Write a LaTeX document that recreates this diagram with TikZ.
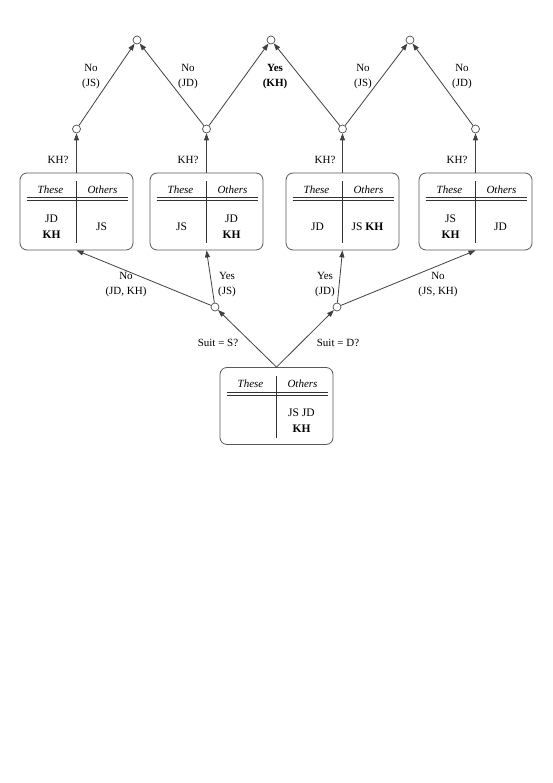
\documentclass[tikz,border=0pt]{standalone}
\usepackage{fontspec}
\setmainfont{Liberation Serif}
\usetikzlibrary{arrows.meta,calc}

\tikzstyle{hand} = [rectangle, rounded corners=7pt, minimum width=113pt, minimum height=77pt, draw=black!65, line width=0.8pt, inner sep=0pt]
\tikzstyle{branch} = [circle, draw=black!70, fill=white, minimum size=8pt, inner sep=0pt, line width=0.7pt]
\tikzstyle{arr} = [-{Triangle[length=7pt,width=5pt]}, draw=black!75, line width=0.8pt]
\tikzstyle{rule} = [draw=black!80, line width=0.7pt]
\tikzstyle{lbl} = [align=center, font=\fontsize{11}{15}\selectfont, inner sep=0pt]
\tikzstyle{head} = [font=\fontsize{11}{13}\selectfont\itshape, inner sep=0pt]
\tikzstyle{card} = [align=center, font=\fontsize{11.5}{16}\selectfont, inner sep=0pt]

% one hand: name, x, y, these, others
\newcommand{\handbox}[5]{%
  \node (#1) at (#2,#3) [hand] {};
  \draw [rule] ($(#1.north)+(0,8.5)$) -- ($(#1.south)+(0,-7)$);
  \draw [rule] ($(#1.north west)+(7,25)$) -- ($(#1.north east)+(-5,25)$);
  \draw [rule] ($(#1.north west)+(7,28)$) -- ($(#1.north east)+(-5,28)$);
  \node (#1 These) at ($(#1.north)+(-26,17)$) [head] {These};
  \node (#1 Others) at ($(#1.north)+(26,17)$) [head] {Others};
  \node (#1 Left) at ($(#1.north)+(-25,54)$) [card] {#4};
  \node (#1 Right) at ($(#1.north)+(25,54)$) [card] {#5};
}

\begin{document}
\begin{tikzpicture}[x=1pt, y=-1pt]
    \useasboundingbox (0,0) rectangle (553,783);
	\handbox{Start}{276.5}{406}{}{JS JD\\\textbf{KH}}
	\handbox{SNo}{76.5}{211.5}{JD\\\textbf{KH}}{JS}
	\handbox{SYes}{206.5}{211.5}{JS}{JD\\\textbf{KH}}
	\handbox{DYes}{342.5}{211.5}{JD}{JS \textbf{KH}}
	\handbox{DNo}{475.5}{211.5}{JS\\\textbf{KH}}{JD}

	\node (SuitS) at (215,307) [branch] {};
	\node (SuitD) at (337,307) [branch] {};
	\node (KH1) at (76.5,129) [branch] {};
	\node (KH2) at (206.5,129) [branch] {};
	\node (KH3) at (342.5,129) [branch] {};
	\node (KH4) at (475.5,129) [branch] {};
	\node (Out1) at (137,40) [branch] {};
	\node (Out2) at (271,40) [branch] {};
	\node (Out3) at (410,40) [branch] {};

	\draw [arr] (Start.north) -- (SuitS);
	\draw [arr] (Start.north) -- (SuitD);
	\draw [arr] (SuitS) -- (SNo.south);
	\draw [arr] (SuitS) -- (SYes.south);
	\draw [arr] (SuitD) -- (DYes.south);
	\draw [arr] (SuitD) -- (DNo.south);
	\draw [arr] (SNo.north) -- (KH1);
	\draw [arr] (SYes.north) -- (KH2);
	\draw [arr] (DYes.north) -- (KH3);
	\draw [arr] (DNo.north) -- (KH4);
	\draw [arr] (KH1) -- (Out1);
	\draw [arr] (KH2) -- (Out1);
	\draw [arr] (KH2) -- (Out2);
	\draw [arr] (KH3) -- (Out2);
	\draw [arr] (KH3) -- (Out3);
	\draw [arr] (KH4) -- (Out3);

	\node (AskS) at (218,343) [lbl] {Suit = S?};
	\node (AskD) at (338,343) [lbl] {Suit = D?};
	\node (LblSNo) at (126,285) [lbl] {No\\(JD, KH)};
	\node (LblSYes) at (227,285) [lbl] {Yes\\(JS)};
	\node (LblDYes) at (325,285) [lbl] {Yes\\(JD)};
	\node (LblDNo) at (438,285) [lbl] {No\\(JS, KH)};
	\node (Ask1) at (58,160) [lbl] {KH?};
	\node (Ask2) at (188,160) [lbl] {KH?};
	\node (Ask3) at (325,160) [lbl] {KH?};
	\node (Ask4) at (457,160) [lbl] {KH?};
	\node (Lbl1) at (91,77) [lbl] {No\\(JS)};
	\node (Lbl2) at (188,77) [lbl] {No\\(JD)};
	\node (Lbl3) at (275,77) [lbl] {\textbf{Yes}\\\textbf{(KH)}};
	\node (Lbl4) at (363,77) [lbl] {No\\(JS)};
	\node (Lbl5) at (462,77) [lbl] {No\\(JD)};
\end{tikzpicture}
\end{document}
